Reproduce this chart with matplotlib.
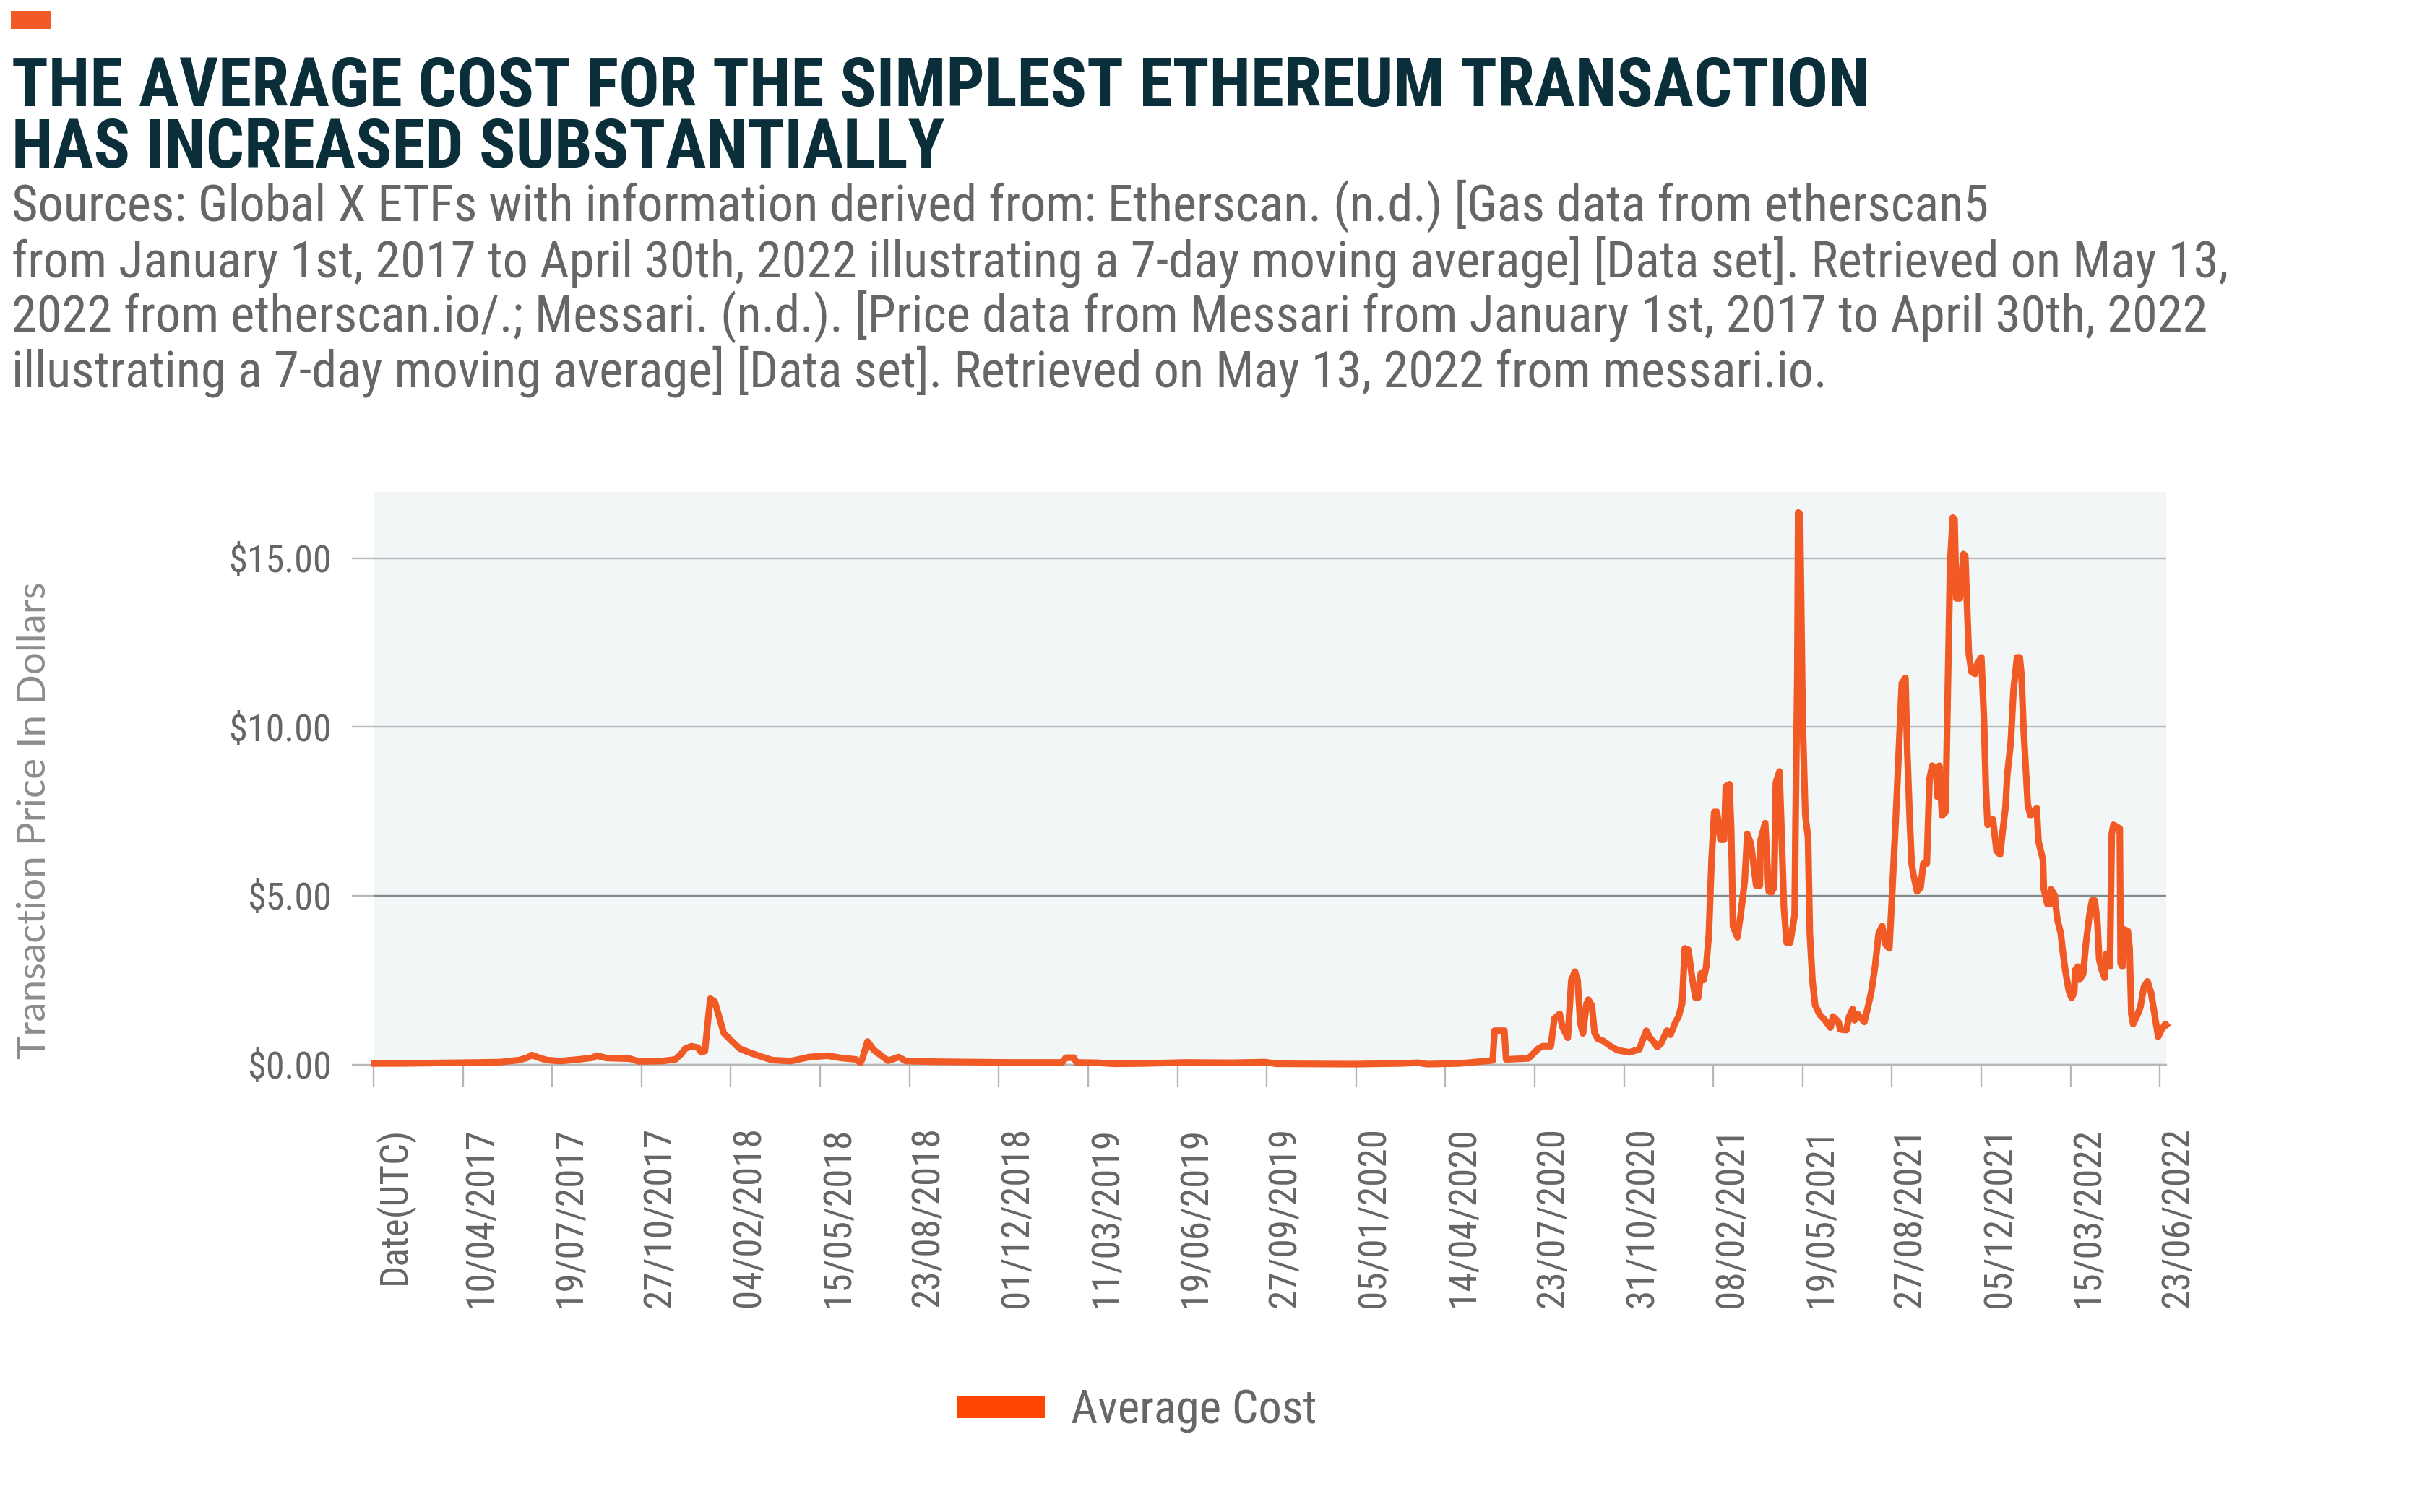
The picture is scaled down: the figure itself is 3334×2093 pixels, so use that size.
import os
import numpy as np
import pandas as pd
import matplotlib
matplotlib.use("Agg")
import matplotlib.pyplot as plt
import matplotlib.dates as mdates
from matplotlib import font_manager as fm
from matplotlib.patches import Patch, Rectangle

# ---------------- data ----------------
title_lines = ["THE AVERAGE COST FOR THE SIMPLEST ETHEREUM TRANSACTION",
               "HAS INCREASED SUBSTANTIALLY"]
source_lines = [
    "Sources: Global X ETFs with information derived from: Etherscan. (n.d.) [Gas data from etherscan5",
    "from January 1st, 2017 to April 30th, 2022 illustrating a 7-day moving average] [Data set]. Retrieved on May 13,",
    "2022 from etherscan.io/.; Messari. (n.d.). [Price data from Messari from January 1st, 2017 to April 30th, 2022",
    "illustrating a 7-day moving average] [Data set]. Retrieved on May 13, 2022 from messari.io.",
]
y_label = "Transaction Price In Dollars"
series_name = "Average Cost"
header_date = "2016-12-31"          # the "Date(UTC)" header row of the category axis
x_tick_labels = ["Date(UTC)", "10/04/2017", "19/07/2017", "27/10/2017", "04/02/2018",
                 "15/05/2018", "23/08/2018", "01/12/2018", "11/03/2019", "19/06/2019",
                 "27/09/2019", "05/01/2020", "14/04/2020", "23/07/2020", "31/10/2020",
                 "08/02/2021", "19/05/2021", "27/08/2021", "05/12/2021", "15/03/2022",
                 "23/06/2022"]
y_ticks = [0, 5, 10, 15]
y_tick_labels = ["$0.00", "$5.00", "$10.00", "$15.00"]

# day number of the daily series (day 1 = 1 Jan 2017) and average cost in USD
day = [1, 30, 60, 91, 120, 142, 163, 172, 177, 185, 194, 209, 230, 245, 250, 261, 287, 297,
       323, 338, 344, 349, 356, 363, 367, 371, 374, 377, 382, 387, 392, 400, 410, 418, 431,
       446, 467, 488, 508, 524, 540, 545, 547, 553, 560, 568, 576, 588, 596, 632, 710, 771,
       775, 784, 787, 810, 830, 864, 911, 960, 998, 1011, 1098, 1149, 1169, 1180, 1216,
       1233, 1253, 1255, 1266, 1268, 1293, 1304, 1309, 1318, 1322, 1328, 1331, 1337, 1341,
       1345, 1348, 1351, 1354, 1358, 1360, 1364, 1367, 1371, 1376, 1385, 1393, 1406, 1417,
       1425, 1429, 1433, 1437, 1441, 1448, 1452, 1457, 1461, 1465, 1468, 1472, 1476, 1480,
       1483, 1486, 1489, 1492, 1495, 1498, 1501, 1504, 1508, 1512, 1514, 1518, 1520, 1522,
       1527, 1531, 1535, 1538, 1542, 1548, 1552, 1553, 1558, 1562, 1565, 1568, 1570, 1574,
       1576, 1579, 1582, 1586, 1588, 1591, 1592, 1594, 1595, 1596, 1597, 1600, 1603, 1606,
       1608, 1611, 1614, 1619, 1625, 1631, 1634, 1640, 1642, 1649, 1652, 1656, 1658, 1662,
       1669, 1673, 1677, 1681, 1685, 1689, 1693, 1697, 1700, 1704, 1708, 1711, 1715, 1717,
       1720, 1722, 1724, 1728, 1732, 1735, 1739, 1742, 1745, 1749, 1751, 1753, 1756, 1760,
       1762, 1765, 1768, 1770, 1772, 1776, 1780, 1782, 1786, 1789, 1793, 1796, 1800, 1803,
       1805, 1807, 1810, 1813, 1817, 1821, 1824, 1827, 1829, 1833, 1836, 1840, 1843, 1845,
       1847, 1850, 1852, 1855, 1858, 1862, 1864, 1869, 1870, 1874, 1877, 1878, 1882, 1885,
       1889, 1891, 1894, 1898, 1901, 1904, 1905, 1908, 1910, 1914, 1917, 1918, 1921, 1924,
       1927, 1930, 1932, 1935, 1938, 1940, 1943, 1944, 1946, 1948, 1955, 1956, 1958, 1960,
       1964, 1966, 1968, 1970, 1974, 1978, 1982, 1986, 1990, 1994, 1998, 2002, 2006, 2007]
cost = [0.03, 0.03, 0.04, 0.05, 0.06, 0.07, 0.13, 0.20, 0.28, 0.20, 0.13, 0.10, 0.15, 0.20,
        0.26, 0.19, 0.17, 0.09, 0.10, 0.15, 0.30, 0.47, 0.54, 0.50, 0.36, 0.40, 1.20, 1.95,
        1.86, 1.40, 0.93, 0.72, 0.47, 0.38, 0.26, 0.13, 0.10, 0.22, 0.26, 0.19, 0.15, 0.05,
        0.15, 0.68, 0.43, 0.27, 0.11, 0.22, 0.10, 0.08, 0.06, 0.06, 0.20, 0.20, 0.06, 0.05,
        0.02, 0.03, 0.06, 0.05, 0.07, 0.02, 0.01, 0.03, 0.05, 0.01, 0.03, 0.07, 0.12, 1.00,
        1.00, 0.15, 0.18, 0.47, 0.54, 0.54, 1.36, 1.50, 1.11, 0.79, 2.50, 2.75, 2.50, 1.24,
        0.92, 1.80, 1.92, 1.75, 0.93, 0.75, 0.71, 0.54, 0.42, 0.36, 0.45, 1.00, 0.79, 0.68,
        0.52, 0.60, 1.00, 0.88, 1.22, 1.42, 1.80, 3.44, 3.40, 2.60, 1.98, 1.98, 2.70, 2.50,
        2.90, 3.88, 6.06, 7.48, 7.48, 6.66, 6.66, 8.24, 8.30, 6.93, 4.10, 3.77, 4.53, 5.41,
        6.83, 6.55, 5.30, 5.30, 6.66, 7.15, 5.13, 5.10, 5.24, 8.35, 8.68, 7.15, 4.64, 3.61,
        3.61, 3.93, 4.42, 7.15, 11.50, 16.35, 11.20, 16.30, 10.21, 7.37, 6.72, 3.88, 2.46,
        1.75, 1.48, 1.31, 1.09, 1.42, 1.26, 1.04, 1.02, 1.42, 1.64, 1.31, 1.48, 1.26, 1.69,
        2.18, 2.90, 3.88, 4.10, 3.55, 3.44, 4.97, 7.15, 9.55, 11.30, 11.45, 9.34, 7.15, 5.95,
        5.62, 5.13, 5.24, 5.95, 5.95, 8.46, 8.85, 8.79, 7.92, 8.85, 7.37, 7.48, 10.43, 14.79,
        16.20, 16.16, 13.81, 13.81, 15.12, 15.07, 12.17, 11.63, 11.57, 11.90, 12.06, 10.21,
        8.24, 7.10, 7.15, 7.26, 6.33, 6.22, 6.93, 7.59, 8.57, 9.55, 11.08, 12.06, 12.06,
        11.52, 10.10, 8.68, 7.70, 7.37, 7.48, 7.59, 6.61, 6.06, 5.19, 4.75, 4.75, 5.19, 5.02,
        4.31, 3.88, 3.39, 2.79, 2.18, 1.97, 2.13, 2.79, 2.90, 2.51, 2.68, 3.55, 3.77, 4.42,
        4.86, 4.86, 4.20, 3.11, 2.79, 2.57, 3.28, 3.25, 2.90, 6.83, 7.10, 6.99, 3.00, 2.90,
        4.00, 3.95, 3.44, 1.48, 1.20, 1.42, 1.69, 2.29, 2.46, 2.13, 1.48, 0.82, 1.04, 1.20,
        1.17]

# ---------------- styling ----------------
W, H, DPI = 3334, 2093, 200
ORANGE = "#F15A24"
LEGEND_ORANGE = "#FF4500"
TITLE_COLOR = "#0B2F3A"
TEXT_GRAY = "#666666"
LABEL_GRAY = "#8C8C8C"
GRID = "#B4B8BA"
GRID_DARK = "#85898B"
BG = "#F2F6F7"


def px2pt(p):
    return p * 72.0 / DPI


files = sorted({f.fname for f in fm.fontManager.ttflist})


def _norm(p):
    n = os.path.splitext(os.path.basename(p))[0].lower()
    for c in "-_ ":
        n = n.replace(c, "")
    return n


def pick(prefixes, weights):
    for pre in prefixes:
        for f in files:
            n = _norm(f)
            if n.startswith(pre) and n[len(pre):] in weights:
                return f
    return None


cond_pref = ["robotocondensed", "liberationsansnarrow", "opensanscondensed",
             "notosanscondensed", "dejavusanscondensed", "roboto", "opensans", "lato"]
cond_reg = pick(cond_pref, ("", "regular"))
cond_bold = pick(cond_pref, ("bold",))
plain_reg = pick(["lato", "opensans", "roboto"], ("", "regular"))


def fp(path, size):
    if path:
        return fm.FontProperties(fname=path, size=size)
    return fm.FontProperties(family="DejaVu Sans", size=size)


fig = plt.figure(figsize=(W / DPI, H / DPI), dpi=DPI)
renderer = fig.canvas.get_renderer()


def fitted(text, path, target_px, start=20.0):
    t = fig.text(0, 0, text, fontproperties=fp(path, start))
    w = t.get_window_extent(renderer).width
    t.remove()
    return start * target_px / w


s_title = fitted(title_lines[0], cond_bold, 2564)
s_src = fitted(source_lines[1], cond_reg, 3065)
s_ylab = fitted(y_label, plain_reg, 661)
s_ytick = fitted("$15.00", cond_reg, 142)
s_leg = fitted(series_name, cond_reg, 340)
s_xtick = fitted("23/06/2022", cond_reg, 250)

# ---------------- header ----------------
fig.patches.append(Rectangle((15 / W, 1 - 40 / H), 55 / W, 25 / H,
                             transform=fig.transFigure, facecolor=ORANGE,
                             edgecolor="none"))
for line, base in zip(title_lines, [147.5, 232]):
    fig.text(16 / W, 1 - base / H, line, fontproperties=fp(cond_bold, s_title),
             color=TITLE_COLOR, ha="left", va="baseline")
for line, base in zip(source_lines, [306, 384, 459, 536]):
    fig.text(16 / W, 1 - base / H, line, fontproperties=fp(cond_reg, s_src),
             color=TEXT_GRAY, ha="left", va="baseline")

# ---------------- axes ----------------
left_px, right_px, top_px, bottom_px = 517, 2998, 681, 1473.5
ax = fig.add_axes([left_px / W, 1 - bottom_px / H,
                   (right_px - left_px) / W, (bottom_px - top_px) / H])
ax.set_facecolor(BG)

start = pd.Timestamp(header_date)
dates = start + pd.to_timedelta(day, unit="D")
xnum = mdates.date2num(dates.to_pydatetime())
tick_dates = [start] + list(pd.to_datetime(x_tick_labels[1:], dayfirst=True))
tick_num = mdates.date2num([d.to_pydatetime() for d in tick_dates])

ax.plot(xnum, cost, color=ORANGE, lw=3.3, solid_joinstyle="round",
        clip_on=False, zorder=3)

ax.set_xlim(mdates.date2num(start.to_pydatetime()), xnum[-1])
ax.set_ylim(0, 16.96)

for sp in ["top", "right", "left"]:
    ax.spines[sp].set_visible(False)
ax.spines["bottom"].set_color(GRID)
ax.spines["bottom"].set_linewidth(0.85)

ax.set_yticks(y_ticks)
ax.set_yticklabels(y_tick_labels, fontproperties=fp(cond_reg, s_ytick), color=TEXT_GRAY)
ax.tick_params(axis="y", length=px2pt(30), width=0.85, color=GRID, pad=px2pt(28))
ax.yaxis.grid(True, color=GRID, lw=0.85)
ax.set_axisbelow(True)
for val, tk in zip(y_ticks, ax.yaxis.get_major_ticks()):
    if val == 5:
        tk.gridline.set_color(GRID_DARK)
        tk.tick1line.set_color(GRID_DARK)

ax.set_xticks(tick_num)
ax.set_xticklabels(x_tick_labels, rotation=90, ha="left", va="top",
                   fontproperties=fp(cond_reg, s_xtick), color=TEXT_GRAY)
ax.tick_params(axis="x", length=px2pt(30), width=0.85, color=GRID, pad=px2pt(56))

fig.text(48 / W, 1 - 1136 / H, y_label, rotation=90, fontproperties=fp(plain_reg, s_ylab),
         color=LABEL_GRAY, ha="center", va="center")

# ---------------- legend ----------------
fs_px = s_leg * DPI / 72.0
leg = fig.legend(handles=[Patch(facecolor=LEGEND_ORANGE, edgecolor="none", label=series_name)],
                 loc="center left", bbox_to_anchor=(1325 / W, 1 - 1953 / H),
                 bbox_transform=fig.transFigure, frameon=False,
                 prop=fp(cond_reg, s_leg), labelcolor=TEXT_GRAY,
                 handlelength=121 / fs_px, handleheight=23 / fs_px,
                 handletextpad=36 / fs_px, borderpad=0, borderaxespad=0)

fig.savefig("out.png", dpi=DPI, facecolor="white")
